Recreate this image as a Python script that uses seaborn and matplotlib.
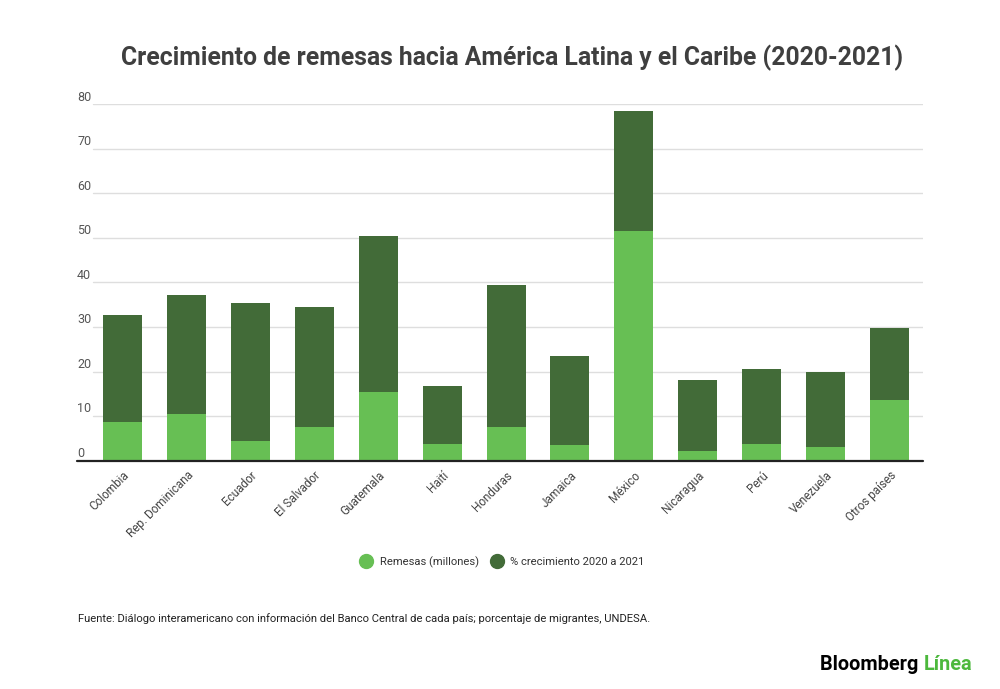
import numpy as np
import pandas as pd
import matplotlib
matplotlib.use("Agg")
import matplotlib.pyplot as plt
from matplotlib.lines import Line2D
import seaborn as sns

# data
paises = ["Colombia", "Rep. Dominicana", "Ecuador", "El Salvador", "Guatemala", "Haití",
          "Honduras", "Jamaica", "México", "Nicaragua", "Perú", "Venezuela", "Otros países"]
remesas = [8.7, 10.5, 4.5, 7.6, 15.4, 3.8, 7.6, 3.5, 51.6, 2.2, 3.8, 3.0, 13.6]
crecimiento = [23.9, 26.8, 31.0, 26.8, 35.0, 12.9, 31.8, 20.1, 26.9, 16.0, 16.7, 16.9, 16.1]
yticks = [0, 10, 20, 30, 40, 50, 60, 70, 80]

verde = "#67bf54"
verde_osc = "#426b38"

df = pd.DataFrame({"pais": paises, "remesas": remesas, "crecimiento": crecimiento})
df["total"] = df["remesas"] + df["crecimiento"]

sns.set_theme(style="white")
plt.rcParams["font.family"] = ["Roboto", "DejaVu Sans"]

fig = plt.figure(figsize=(10, 6.89), dpi=100)
ax = fig.add_axes([0.077, 0.3314, 0.8457, 0.5172])

# stacked: dark total bar first, green on top of its lower part
sns.barplot(data=df, x="pais", y="total", color=verde_osc, width=0.61, saturation=1,
            linewidth=0, ax=ax, zorder=3)
sns.barplot(data=df, x="pais", y="remesas", color=verde, width=0.61, saturation=1,
            linewidth=0, ax=ax, zorder=4)

ax.set_ylim(0, 80)
ax.set_xlim(-0.715, 12.52)
for s in ax.spines.values():
    s.set_visible(False)
ax.set_xlabel("")
ax.set_ylabel("")
ax.set_yticks([])

# gridlines and y labels sitting above the lines
for v in yticks:
    if v == 0:
        ax.axhline(0, color="#222222", lw=1.6, zorder=5, clip_on=False)
    else:
        ax.axhline(v, xmin=0.019, xmax=1, color="#dedede", lw=1, zorder=1)
    ax.annotate(str(v), xy=(0, v), xycoords=("axes fraction", "data"), xytext=(0, 0.5),
                textcoords="offset points", ha="left", va="bottom", fontsize=9, color="#555555")

ax.set_xticks(range(len(paises)))
ax.set_xticklabels(paises, rotation=45, ha="right", rotation_mode="anchor", fontsize=8.5, color="#444444")
ax.tick_params(axis="x", length=0, pad=6)

fig.text(0.512, 0.916, "Crecimiento de remesas hacia América Latina y el Caribe (2020-2021)",
         ha="center", va="center", fontsize=17.8, fontweight="bold", color="#3f3f3f")

handles = [Line2D([], [], marker="o", ls="", markersize=10, markerfacecolor=verde, markeredgecolor=verde),
           Line2D([], [], marker="o", ls="", markersize=10, markerfacecolor=verde_osc, markeredgecolor=verde_osc)]
fig.legend(handles, ["Remesas (millones)", "% crecimiento 2020 a 2021"], loc="center",
           bbox_to_anchor=(0.5, 0.184), ncol=2, frameon=False, fontsize=8.1,
           handletextpad=0.2, columnspacing=0.6, labelcolor="#333333")

fig.text(0.078, 0.1016, "Fuente: Diálogo interamericano con información del Banco Central de cada país; porcentaje de migrantes, UNDESA.",
         ha="left", va="center", fontsize=8.1, color="#222222")

linea = fig.text(0.972, 0.036, "Línea", ha="right", va="center", fontsize=14.3,
                 fontweight="bold", color="#4cb83c")
ax.annotate("Bloomberg ", xy=(0, 0.5), xycoords=linea, ha="right", va="center",
            fontsize=14.3, fontweight="bold", color="#000000")

fig.savefig("out.png", dpi=100, facecolor="white")
